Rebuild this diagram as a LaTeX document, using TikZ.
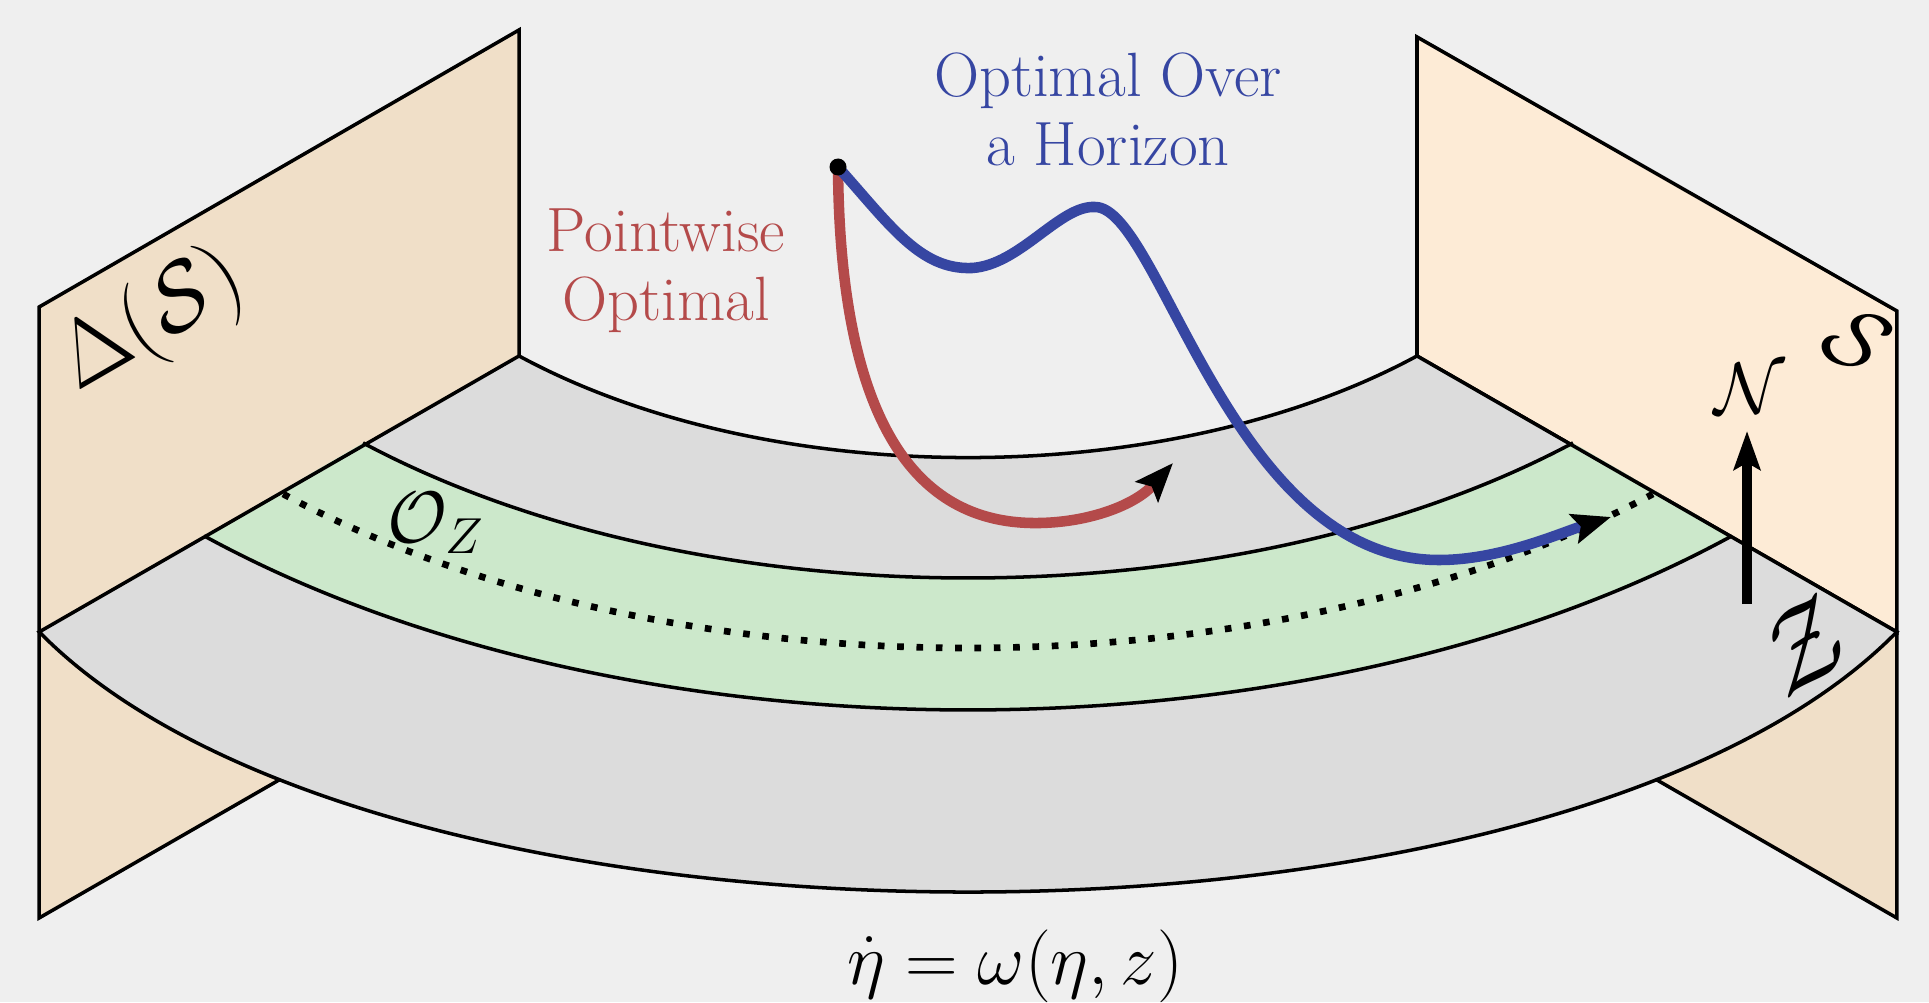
\documentclass[tikz,border=0pt]{standalone}
\usetikzlibrary{calc,arrows.meta}

\definecolor{bgc}{HTML}{EFEFEF}
\definecolor{wallL}{HTML}{F0DFC8}
\definecolor{wallR}{HTML}{FDEBD6}
\definecolor{floorgray}{HTML}{DCDCDC}
\definecolor{bandgreen}{HTML}{CCE8CB}
\definecolor{ptred}{HTML}{B44A4A}
\definecolor{hzblue}{HTML}{3646A2}

\begin{document}
\begin{tikzpicture}[
  edge/.style={draw=black, line width=1.0pt},
  dotline/.style={line width=1.9pt, dash pattern=on 1.9pt off 3.6pt},
  traj/.style={line width=3pt, -{Stealth[length=11pt, width=8.5pt, inset=2pt, color=black]}},
  lbl/.style={font=\fontsize{17.8}{19.6}\selectfont, align=center},
  mlbl/.style={font=\fontsize{20}{24}\selectfont, inner sep=0pt},
  biglbl/.style={font=\fontsize{24.88}{30}\selectfont, inner sep=0pt}
]

% Background
\fill[bgc] (0,0) rectangle (19.29,-10.02);
\useasboundingbox (0,0) rectangle (19.29,-10.02);

% Floor corners
\coordinate (C) at (9.68,-0.98);
\coordinate (Lin) at ($(C)+(225.84:6.445 and 3.596)$);
\coordinate (Rin) at ($(C)+(314.16:6.445 and 3.596)$);
\coordinate (Lout) at ($(C)+(222.26:12.55 and 7.94)$);
\coordinate (Rout) at ($(C)+(317.74:12.55 and 7.94)$);

% Walls
\filldraw[wallL, edge] ($(Lout)+(0,3.25)$) -- ($(Lin)+(0,3.26)$) -- ($(Lin)+(0,-2.86)$) -- ($(Lout)+(0,-2.86)$) -- cycle;
\filldraw[wallL, edge] ($(Rin)+(0,-2.86)$) -- ($(Rout)+(0,-2.86)$) -- (Rout) -- (Rin) -- cycle;
\filldraw[wallR, edge] ($(Rin)+(0,3.19)$) -- ($(Rout)+(0,3.21)$) -- (Rout) -- (Rin) -- cycle;

% Floor
\fill[floorgray] (Lout) -- (Lin) arc[start angle=225.84, end angle=314.16, x radius=6.445, y radius=3.596]
  -- (Rout) .. controls ($(Rout)+(-3.4,-3.468)$) and ($(Lout)+(3.4,-3.468)$) .. (Lout) -- cycle;

% Green band
\coordinate (GLin) at ($(C)+(225.94:8.70 and 4.80)$);
\coordinate (GLout) at ($(C)+(225.69:10.936 and 6.12)$);
\coordinate (GRout) at ($(C)+(314.31:10.936 and 6.12)$);
\fill[bandgreen] (GLout) -- (GLin) arc[start angle=225.94, end angle=314.06, x radius=8.70, y radius=4.80]
  -- (GRout) arc[start angle=314.31, end angle=225.69, x radius=10.936, y radius=6.12] -- cycle;

% Floor outline
\draw[edge] (Lout) -- (Lin) arc[start angle=225.84, end angle=314.16, x radius=6.445, y radius=3.596]
  -- (Rout) .. controls ($(Rout)+(-3.4,-3.468)$) and ($(Lout)+(3.4,-3.468)$) .. (Lout) -- cycle;
\draw[edge] (GLin) arc[start angle=225.94, end angle=314.06, x radius=8.70, y radius=4.80];
\draw[edge] (GRout) arc[start angle=314.31, end angle=225.69, x radius=10.936, y radius=6.12];

% Dotted orbit
\draw[dotline] ($(C)+(226.06:9.87 and 5.50)$) arc[start angle=226.06, end angle=313.94, x radius=9.87, y radius=5.50];

% Trajectories
\coordinate (x0) at (8.38,-1.67);
\coordinate (redtip) at (11.73,-4.63);
\coordinate (bluetip) at (16.11,-5.17);
\draw[traj, ptred] (x0) .. controls (8.40,-4.6) and (9.4,-5.25) .. (10.4,-5.23)
  .. controls (10.9,-5.22) and (11.35,-5.05) .. (redtip);
\draw[traj, hzblue] (x0) .. controls (8.9,-2.25) and (9.2,-2.7) .. (9.72,-2.68)
  .. controls (10.2,-2.65) and (10.6,-2.05) .. (10.95,-2.07)
  .. controls (11.6,-2.07) and (12.3,-5.6) .. (14.39,-5.60)
  .. controls (15.0,-5.6) and (15.6,-5.33) .. (bluetip);
\fill (x0) circle (0.085);

% Normal direction
\coordinate (nbase) at (17.47,-6.04);
\coordinate (ntip) at (17.47,-4.31);
\draw[line width=2.7pt, -{Stealth[length=11pt, width=7.5pt, inset=2pt]}] (nbase) -- (ntip);
\node[mlbl] (nlab) at (17.50,-3.89) {$\mathcal{N}$};

% Labels
\node[lbl, text=ptred] (pw) at (6.66,-2.705) {Pointwise\\Optimal};
\node[lbl, text=hzblue] (hz) at (11.08,-1.09) {Optimal Over\\a Horizon};
\node[biglbl, rotate=30] (ds) at (1.52,-3.22) {\scalebox{1.05}{$\Delta(\mathcal{S})$}};
\node[biglbl, rotate=-30] (sr) at (18.57,-3.40) {$\mathcal{S}$};
\node[biglbl, rotate=32] (zr) at (18.03,-6.46) {\scalebox{1.25}{$\mathcal{Z}$}};
\node[mlbl, font=\fontsize{22}{26}\selectfont] (oz) at (4.36,-5.23) {$\mathcal{O}_Z$};
\node[mlbl, font=\fontsize{21}{25}\selectfont] (dyn) at (10.15,-9.66) {$\dot{\eta} = \omega(\eta, z)$};

\end{tikzpicture}
\end{document}
